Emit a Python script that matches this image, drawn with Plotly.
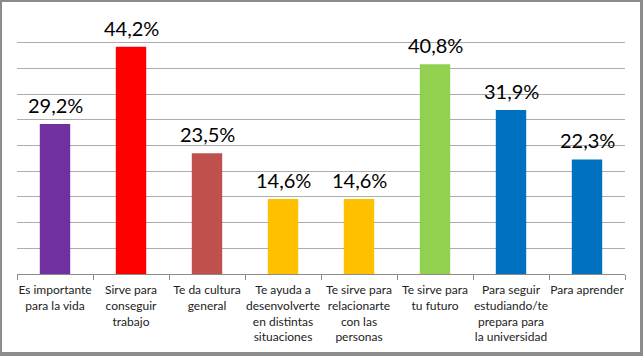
import plotly.graph_objects as go

categories = [
    "Es importante<br>para la vida",
    "Sirve para<br>conseguir<br>trabajo",
    "Te da cultura<br>general",
    "Te ayuda a<br>desenvolverte<br>en distintas<br>situaciones",
    "Te sirve para<br>relacionarte<br>con las<br>personas",
    "Te sirve para<br>tu futuro",
    "Para seguir<br>estudiando/te<br>prepara para<br>la universidad",
    "Para aprender",
]
values = [29.2, 44.2, 23.5, 14.6, 14.6, 40.8, 31.9, 22.3]
colors = ["#7030A0", "#FF0000", "#C0504D", "#FFC000", "#FFC000", "#92D050", "#0070C0", "#0070C0"]
labels = [f"{v:.1f}%".replace(".", ",") for v in values]

W, H = 643, 356
L, R, T, B = 17, 18, 17, 82
pw, ph = W - L - R, H - T - B

fig = go.Figure()
fig.add_trace(go.Bar(
    x=categories, y=values, marker=dict(color=colors, line=dict(width=0)),
    width=0.4, hoverinfo="skip",
))

for c, v, t in zip(categories, values, labels):
    fig.add_annotation(x=c, y=v, text=t, showarrow=False, yanchor="bottom",
                       yshift=5, font=dict(family="Lato", size=20, color="#000000"))

def px_x(p):
    return (p - L) / pw

def px_y(p):
    return (H - B - p) / ph

border = "#8C8C8C"
# frame: (x0, y0, x1, y1) in pixels
frame = [(0, 0, 2, H), (0, 0, W, 2), (640, 0, W, H), (0, 352, W, H)]
for x0, y0, x1, y1 in frame:
    fig.add_shape(type="rect", xref="paper", yref="paper",
                  x0=px_x(x0), x1=px_x(x1), y0=px_y(y1), y1=px_y(y0),
                  line=dict(width=0), fillcolor=border, layer="above")

fig.update_layout(
    width=W, height=H,
    margin=dict(l=L, r=R, t=T, b=B, pad=0, autoexpand=False),
    paper_bgcolor="white", plot_bgcolor="white",
    showlegend=False,
    font=dict(family="Lato", size=12, color="#222222"),
    xaxis=dict(
        type="category", showline=True, linecolor="#8C8C8C", linewidth=1,
        ticks="outside", tickson="boundaries", ticklen=5, tickcolor="#8C8C8C",
        tickfont=dict(family="Lato", size=12, color="#222222"),
        ticklabelstandoff=5,
        tickangle=0, automargin=False,
        showgrid=False, fixedrange=True,
    ),
    yaxis=dict(
        range=[0, 50], dtick=5, showticklabels=False, showgrid=True,
        gridcolor="#ADADAD", gridwidth=1, zeroline=False, showline=False,
        ticks="", fixedrange=True, automargin=False,
    ),
)

fig.write_html("out.html", config={"displayModeBar": False},
               post_script="document.body.style.margin='0px';")
